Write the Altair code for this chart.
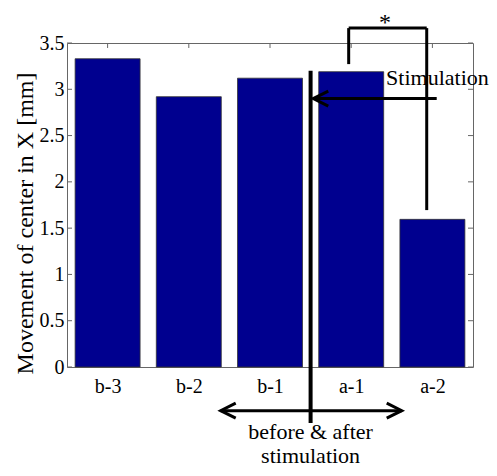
import altair as alt
import pandas as pd

# ---- data ----
categories = ["b-3", "b-2", "b-1", "a-1", "a-2"]
values = [3.33, 2.92, 3.12, 3.19, 1.595]
y_ticks = [0, 0.5, 1, 1.5, 2, 2.5, 3, 3.5]

# annotation line segments (data coordinates)
seg_x1 = [3.5, 3.533, 2.393, 3.969, 3.969, 4.93]
seg_x2 = [3.5, 5.053, 4.622, 4.93, 3.969, 4.93]
seg_y1 = [3.20, 2.90, -0.472, 3.661, 3.661, 3.661]
seg_y2 = [-0.605, 2.90, -0.472, 3.661, 3.272, 1.695]
seg_w = [4, 3, 3, 3, 3, 3]

# arrow heads
head_x = [3.533, 2.393, 4.622]
head_y = [2.90, -0.472, -0.472]
head_dir = ["left", "left", "right"]

# texts
txt_label = ["before & after", "stimulation"]
txt_x = [3.5, 3.5]
txt_y = [-0.70, -0.965]
stim_label = ["Stimulation"]
stim_x = [4.43]
stim_y = [3.124]
star_label = ["*"]
star_x = [4.416]
star_y = [3.851]

FONT = "Liberation Serif"

bars = pd.DataFrame({"cat": categories, "v": values,
                     "pos": list(range(1, len(categories) + 1))})
bars["x1"] = bars["pos"] - 0.4
bars["x2"] = bars["pos"] + 0.4

xs = alt.Scale(domain=[0.5, 5.5], nice=False, zero=False)
ys = alt.Scale(domain=[0, 3.5], nice=False, zero=False)

label_arr = "[" + ",".join("'%s'" % c for c in categories) + "]"

x_axis = alt.Axis(values=list(range(1, len(categories) + 1)),
                  labelExpr=label_arr + "[datum.value - 1]",
                  title=None, ticks=False, tickSize=0, domain=False, grid=False,
                  labelFont=FONT, labelFontSize=20, labelColor="black",
                  labelPadding=9)
y_axis = alt.Axis(values=y_ticks, labelExpr="'' + datum.value",
                  title="Movement of center in X [mm]",
                  ticks=False, tickSize=0, domain=False, grid=False,
                  labelFont=FONT, labelFontSize=20, labelColor="black",
                  labelPadding=3,
                  titleFont=FONT, titleFontSize=24, titleFontWeight="normal",
                  titleColor="black", titleX=-35, titleY=180,
                  titleBaseline="alphabetic", titleAngle=270)

# inward ticks (MATLAB box style)
tl = 5 / 81.2
tv = 5 / 92.6
tick_rows = []
for t in y_ticks:
    tick_rows.append({"x1": 0.5, "x2": 0.5 + tl, "y1": t, "y2": t})
    tick_rows.append({"x1": 5.5 - tl, "x2": 5.5, "y1": t, "y2": t})
for p in range(1, len(categories) + 1):
    tick_rows.append({"x1": p, "x2": p, "y1": 3.5, "y2": 3.5 - tv})
    tick_rows.append({"x1": p, "x2": p, "y1": 0, "y2": tv})
ticks_df = pd.DataFrame(tick_rows)

tick_layer = alt.Chart(ticks_df).mark_rule(color="#666666", strokeWidth=1).encode(
    x=alt.X("x1:Q", scale=xs, axis=x_axis), x2="x2:Q",
    y=alt.Y("y1:Q", scale=ys, axis=y_axis), y2="y2:Q")

bar_layer = alt.Chart(bars).mark_rect(color="#00008F", stroke="#333333",
                                      strokeWidth=0.8).encode(
    x=alt.X("x1:Q", scale=xs), x2="x2:Q",
    y=alt.Y("v:Q", scale=ys), y2=alt.datum(0))

seg_df = pd.DataFrame({"x1": seg_x1, "x2": seg_x2, "y1": seg_y1,
                       "y2": seg_y2, "w": seg_w})
seg_layer = alt.Chart(seg_df).mark_rule(color="black").encode(
    x=alt.X("x1:Q", scale=xs), x2="x2:Q",
    y=alt.Y("y1:Q", scale=ys), y2="y2:Q",
    strokeWidth=alt.StrokeWidth("w:Q", scale=None, legend=None))

head_df = pd.DataFrame({"x": head_x, "y": head_y, "d": head_dir})
left_head = alt.Chart(head_df).transform_filter("datum.d == 'left'").mark_point(
    shape="M1,-0.5L0,0L1,0.5", size=900, filled=False, color="black",
    strokeWidth=3, opacity=1).encode(
    x=alt.X("x:Q", scale=xs), y=alt.Y("y:Q", scale=ys))
right_head = alt.Chart(head_df).transform_filter("datum.d == 'right'").mark_point(
    shape="M-1,-0.5L0,0L-1,0.5", size=900, filled=False, color="black",
    strokeWidth=3, opacity=1).encode(
    x=alt.X("x:Q", scale=xs), y=alt.Y("y:Q", scale=ys))

txt_df = pd.DataFrame({"t": txt_label, "x": txt_x, "y": txt_y})
txt_layer = alt.Chart(txt_df).mark_text(font=FONT, fontSize=22, color="black",
                                        align="center", baseline="middle").encode(
    x=alt.X("x:Q", scale=xs), y=alt.Y("y:Q", scale=ys), text="t:N")

stim_df = pd.DataFrame({"t": stim_label, "x": stim_x, "y": stim_y})
stim_layer = alt.Chart(stim_df).mark_text(font=FONT, fontSize=22, color="black",
                                          align="left", baseline="middle").encode(
    x=alt.X("x:Q", scale=xs), y=alt.Y("y:Q", scale=ys), text="t:N")

star_df = pd.DataFrame({"t": star_label, "x": star_x, "y": star_y})
star_layer = alt.Chart(star_df).mark_text(font=FONT, fontSize=24, color="black",
                                          align="center", baseline="top").encode(
    x=alt.X("x:Q", scale=xs), y=alt.Y("y:Q", scale=ys), text="t:N")

chart = alt.layer(tick_layer, bar_layer, stim_layer, seg_layer, left_head,
                  right_head, txt_layer, star_layer).properties(
    width=406, height=324,
    autosize=alt.AutoSizeParams(type="none"),
    padding={"left": 59, "top": 35, "right": 16, "bottom": 102},
    background="white",
).configure_view(stroke="#666666", strokeWidth=1)

chart.save("out.html", embed_options={"renderer": "svg", "actions": False})
